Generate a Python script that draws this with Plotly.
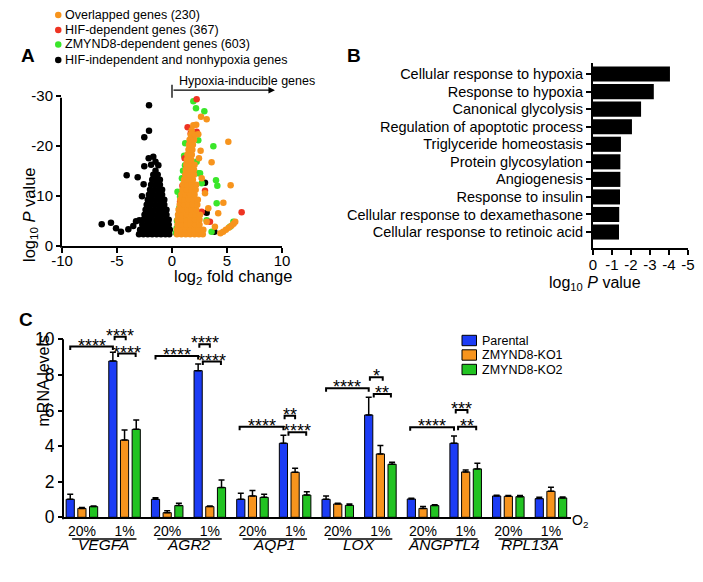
import plotly.graph_objects as go

W, H = 703, 582
FONT = "Liberation Sans, Arial, Helvetica, sans-serif"

# ---- panel A: volcano plot (log2 fold change vs log10 P value)
black_x = [-2.09, -2.09, -2.52, -2.12, -1.70, -1.24, -2.52, -4.12, -3.12, -2.58, -2.73,
           -6.39, -5.55, -5.09, -4.64, -3.97, -3.52, -2.97, -3.27, -1.9, -1.5,
           -3.0, -2.6, -2.2, -1.8, -1.4, -1.0, -0.6, -0.25,
           -2.9, -2.5, -2.1, -1.7, -1.3, -0.9, -0.5, -0.2,
           -2.7, -2.3, -1.9, -1.5, -1.1, -0.7, -0.3,
           -2.6, -2.2, -1.8, -1.4, -1.0, -0.6, -0.3,
           -2.5, -2.1, -1.7, -1.3, -0.9, -0.5,
           -2.4, -2.0, -1.6, -1.2, -0.8, -0.5,
           -2.3, -1.9, -1.5, -1.1, -0.7,
           -2.2, -1.8, -1.4, -1.0, -0.7,
           -2.1, -1.7, -1.3, -0.9,
           -2.0, -1.6, -1.2, -0.9,
           -1.9, -1.5, -1.1,
           -1.8, -1.4, -1.1,
           -1.7, -1.3,
           -1.5,
           3.0, 3.15, 3.85, 1.6]
black_y = [-28.1, -23.0, -21.7, -17.5, -17.8, -16.1, -15.9, -14.1, -13.7, -12.3, -9.9,
           -4.27, -4.6, -3.5, -2.8, -3.27, -3.93, -5.1, -4.9, -16.2, -16.8,
           -2.3, -2.3, -2.3, -2.3, -2.3, -2.3, -2.3, -2.3,
           -3.2, -3.2, -3.2, -3.2, -3.2, -3.2, -3.2, -3.2,
           -4.2, -4.2, -4.2, -4.2, -4.2, -4.2, -4.2,
           -5.2, -5.2, -5.2, -5.2, -5.2, -5.2, -5.2,
           -6.2, -6.2, -6.2, -6.2, -6.2, -6.2,
           -7.2, -7.2, -7.2, -7.2, -7.2, -7.2,
           -8.2, -8.2, -8.2, -8.2, -8.2,
           -9.2, -9.2, -9.2, -9.2, -9.2,
           -10.2, -10.2, -10.2, -10.2,
           -11.2, -11.2, -11.2, -11.2,
           -12.2, -12.2, -12.2,
           -13.2, -13.2, -13.2,
           -14.2, -14.2,
           -15.0,
           -12.6, -6.6, -2.8, -18.1]

green_x = [1.94, 2.18, 2.94, 3.76, 4.0, 4.12, 4.06, 2.39, 1.48, 2.24, 1.18, 2.39, 2.7,
           0.82, 0.58, 0.42, 3.15, 3.6, 5.27, 5.58, 0.73, 2.55, 0.35, 0.5,
           0.9, 1.0, 0.65, 0.45, 1.2, 1.1]
green_y = [-28.9, -27.5, -26.9, -19.9, -13.1, -12.0, -8.5, -21.1, -18.3, -16.8, -16.1, -14.5, -12.5,
           -8.8, -6.1, -3.5, -5.1, -2.8, -3.8, -4.8, -9.8, -14.5, -2.6, -10.8,
           -13.5, -15.0, -7.5, -5.0, -20.5, -18.0]

red_x = [2.24, 1.42, 2.24, 1.33, 1.5, 0.73, 3.0, 2.7, 6.33, 1.7, 2.55, 3.45, 0.6, 0.95, 1.15]
red_y = [-29.3, -23.7, -22.8, -16.1, -14.1, -8.8, -11.0, -6.8, -6.7, -22.5, -6.5, -4.8, -4.5, -12.0, -17.5]

orange_x = [2.64, 3.15, 5.12, 3.6, 5.33, 4.67, 4.2, 3.9, 1.94, 1.79, 2.39, 2.2, 2.7, 3.0, 3.3, 3.15,
            2.6, 2.45, 4.4, 4.65, 4.9, 5.15, 5.4, 5.6, 5.75,
            0.45, 0.85, 1.25, 1.65, 2.05, 2.45, 2.8,
            0.45, 0.85, 1.25, 1.65, 2.05, 2.45, 2.85,
            0.5, 0.9, 1.3, 1.7, 2.1, 2.5,
            0.5, 0.9, 1.3, 1.7, 2.1, 2.5,
            0.55, 0.95, 1.35, 1.75, 2.15, 2.55,
            0.6, 1.0, 1.4, 1.8, 2.2,
            0.7, 1.1, 1.5, 1.9, 2.3,
            0.75, 1.15, 1.55, 1.95, 2.35,
            0.85, 1.25, 1.65, 2.05,
            0.95, 1.35, 1.75, 2.15,
            1.0, 1.4, 1.8, 2.2,
            1.1, 1.5, 1.9,
            1.2, 1.6, 2.0,
            1.25, 1.65, 2.0,
            1.3, 1.7, 2.05,
            1.35, 1.75,
            1.4, 1.8,
            1.5, 1.85,
            1.55, 1.9,
            1.6, 2.0,
            1.7, 2.1]
orange_y = [-25.8, -25.3, -20.8, -16.7, -12.1, -8.6, -6.5, -3.8, -24.1, -23.1, -22.3, -24.2, -13.5, -10.5, -7.5, -4.8,
            -19.0, -17.5, -2.5, -2.8, -3.2, -3.6, -4.0, -4.4, -4.8,
            -2.3, -2.3, -2.3, -2.3, -2.3, -2.3, -2.3,
            -3.2, -3.2, -3.2, -3.2, -3.2, -3.2, -3.2,
            -4.2, -4.2, -4.2, -4.2, -4.2, -4.2,
            -5.2, -5.2, -5.2, -5.2, -5.2, -5.2,
            -6.2, -6.2, -6.2, -6.2, -6.2, -6.2,
            -7.2, -7.2, -7.2, -7.2, -7.2,
            -8.2, -8.2, -8.2, -8.2, -8.2,
            -9.2, -9.2, -9.2, -9.2, -9.2,
            -10.2, -10.2, -10.2, -10.2,
            -11.2, -11.2, -11.2, -11.2,
            -12.2, -12.2, -12.2, -12.2,
            -13.2, -13.2, -13.2,
            -14.2, -14.2, -14.2,
            -15.2, -15.2, -15.2,
            -16.2, -16.2, -16.2,
            -17.2, -17.2,
            -18.2, -18.2,
            -19.2, -19.2,
            -20.2, -20.2,
            -21.2, -21.2,
            -22.2, -22.2]

legend_a = ["Overlapped genes (230)", "HIF-dependent genes (367)",
            "ZMYND8-dependent genes (603)", "HIF-independent and nonhypoxia genes"]

# ---- panel B: GO terms
go_terms = ["Cellular response to hypoxia", "Response to hypoxia", "Canonical glycolysis",
            "Regulation of apoptotic process", "Triglyceride homeostasis", "Protein glycosylation",
            "Angiogenesis", "Response to insulin", "Cellular response to dexamethasone",
            "Cellular response to retinoic acid"]
go_logp = [-4.05, -3.2, -2.53, -2.05, -1.47, -1.44, -1.44, -1.42, -1.38, -1.37]

# ---- panel C: qPCR
genes = ["VEGFA", "AGR2", "AQP1", "LOX", "ANGPTL4", "RPL13A"]
o2_levels = ["20%", "1%"]
parental = [1.01, 8.78, 1.01, 8.24, 1.01, 4.16, 1.01, 5.75, 1.03, 4.16, 1.2, 1.05]
parental_err = [0.28, 0.49, 0.09, 0.37, 0.34, 0.45, 0.19, 0.99, 0.04, 0.41, 0.04, 0.07]
ko1 = [0.5, 4.34, 0.26, 0.6, 1.2, 2.53, 0.75, 3.56, 0.5, 2.55, 1.18, 1.46]
ko1_err = [0.05, 0.56, 0.11, 0.03, 0.3, 0.22, 0.04, 0.47, 0.1, 0.11, 0.04, 0.23]
ko2 = [0.6, 4.94, 0.66, 1.67, 1.12, 1.25, 0.67, 2.98, 0.66, 2.72, 1.16, 1.09]
ko2_err = [0.03, 0.53, 0.13, 0.43, 0.17, 0.19, 0.08, 0.11, 0.05, 0.31, 0.06, 0.05]
series_names = ["Parental", "ZMYND8-KO1", "ZMYND8-KO2"]

# (category, bar, category, bar, height, label)
brackets = [
    (0, 0, 1, 0, 9.6, "****"), (1, 0.15, 1, 1.1, 10.15, "****"), (1, 0.45, 1, 1.95, 9.2, "****"),
    (2, 0, 3, 0, 9.06, "****"), (3, 0.1, 3, 1.0, 9.72, "****"), (3, 0.4, 3, 1.95, 8.75, "****"),
    (4, -0.1, 5, 0, 5.09, "****"), (5, 0.1, 5, 1.0, 5.71, "**"), (5, 0.43, 5, 1.95, 4.78, "****"),
    (6, 0, 7, 0, 7.25, "****"), (7, 0.1, 7, 1.2, 7.87, "*"), (7, 0.43, 7, 1.9, 6.93, "**"),
    (8, -0.1, 9, 0, 5.06, "****"), (9, 0.15, 9, 1.15, 6.03, "***"), (9, 0.35, 9, 1.9, 5.09, "**"),
]

ORANGE, RED, GREEN_A, BLACK = "#f7941d", "#ee3322", "#3ae62a", "#000000"
BAR_COLORS = ["#1c3cf5", "#f7941d", "#22c322"]


def fx(p):
    return p / W


def fy(p):
    return 1 - p / H


fig = go.Figure()

for xs, ys, col in [(black_x, black_y, BLACK), (green_x, green_y, GREEN_A),
                    (red_x, red_y, RED), (orange_x, orange_y, ORANGE)]:
    fig.add_trace(go.Scatter(x=xs, y=ys, mode="markers", xaxis="x", yaxis="y",
                             marker=dict(color=col, size=6.5, line=dict(width=0)),
                             showlegend=False, hoverinfo="skip"))

fig.add_trace(go.Bar(x=go_logp, y=go_terms, orientation="h", xaxis="x2", yaxis="y2",
                     marker=dict(color="black", line=dict(width=0)), width=0.86,
                     showlegend=False))

cats = list(range(len(genes) * len(o2_levels)))
for name, vals, errs, col in zip(series_names, [parental, ko1, ko2],
                                 [parental_err, ko1_err, ko2_err], BAR_COLORS):
    fig.add_trace(go.Bar(x=cats, y=vals, name=name, xaxis="x3", yaxis="y3",
                         marker=dict(color=col, line=dict(color="black", width=1)),
                         error_y=dict(type="data", array=errs, arrayminus=[0] * len(errs),
                                      symmetric=False, color="black", thickness=1.5, width=3),
                         showlegend=False))

axis_common = dict(showgrid=False, zeroline=False, linecolor="black", linewidth=2,
                   ticks="outside", tickcolor="black", tickwidth=2, ticklen=5,
                   automargin=False)

fig.update_layout(
    template="none",
    width=W, height=H, margin=dict(l=0, r=0, t=0, b=0, pad=0),
    paper_bgcolor="white", plot_bgcolor="rgba(0,0,0,0)",
    font=dict(family=FONT, color="black"),
    barmode="group", bargap=0.178, bargroupgap=0.3,
    xaxis=dict(domain=[fx(62), fx(282)], range=[-10, 10], anchor="y", showline=True,
               tickvals=[-10, -5, 0, 5, 10], ticktext=["-10", "-5", "0", "5", "10"],
               tickfont=dict(size=15), ticklabelstandoff=-5, **axis_common),
    yaxis=dict(domain=[fy(245.7), fy(75.7)], range=[0, -34], anchor="x", showline=False,
               tickvals=[0, -10, -20, -30], ticktext=["0", "-10", "-20", "-30"],
               tickfont=dict(size=15), **axis_common),
    xaxis2=dict(domain=[fx(593), fx(688)], range=[0, -5], anchor="y2", showline=True,
                tickvals=[0, -1, -2, -3, -4, -5], ticktext=["0", "-1", "-2", "-3", "-4", "-5"],
                tickfont=dict(size=15), ticklabelstandoff=-3, **axis_common),
    yaxis2=dict(domain=[fy(248), fy(63)], type="category", range=[9.91, -0.63], anchor="x2",
                showline=True, tickfont=dict(size=14.5), **axis_common),
    xaxis3=dict(domain=[fx(64), fx(571)], range=[-0.42, 11.47], anchor="y3", showline=True,
                tickvals=cats, ticktext=o2_levels * len(genes), showgrid=False, zeroline=False,
                linecolor="black", linewidth=2, ticks="", tickfont=dict(size=14),
                automargin=False),
    yaxis3=dict(domain=[fy(517.3), fy(321.5)], range=[0, 11], anchor="x3", showline=False,
                tickvals=[0, 2, 4, 6, 8, 10], tickfont=dict(size=17.5), **axis_common),
)

shapes = []
annotations = []

# hand-drawn y axis lines (range extends above the top tick)
shapes.append(dict(type="line", xref="paper", yref="paper", x0=fx(61), x1=fx(61),
                   y0=fy(247.7), y1=fy(97.7), line=dict(color="black", width=2)))
shapes.append(dict(type="line", xref="paper", yref="paper", x0=fx(63), x1=fx(63),
                   y0=fy(519.3), y1=fy(339.3), line=dict(color="black", width=2)))

# hypoxia-inducible arrow in A
shapes.append(dict(type="line", xref="x", yref="y", x0=0, x1=0, y0=-29.6, y1=-32.2,
                   line=dict(color="black", width=1.3)))
annotations.append(dict(x=9.36, y=-31.1, ax=0, ay=-31.1, xref="x", yref="y", axref="x",
                        ayref="y", text="", showarrow=True, arrowhead=2, arrowsize=1,
                        arrowwidth=1.3, arrowcolor="black", standoff=0, startstandoff=0))
annotations.append(dict(x=0.45, y=-32.9, xref="x", yref="y", xanchor="left", yanchor="middle",
                        text="Hypoxia-inducible genes", showarrow=False, font=dict(size=12.5)))

# legend A
for i, (name, col) in enumerate(zip(legend_a, [ORANGE, RED, GREEN_A, BLACK])):
    ry = [15, 30, 44.5, 60][i]
    shapes.append(dict(type="circle", xref="paper", yref="paper", x0=fx(55), x1=fx(61.5),
                       y0=fy(ry + 3.2), y1=fy(ry - 3.2), fillcolor=col, line=dict(width=0)))
    annotations.append(dict(x=fx(63), y=fy(ry), xref="paper", yref="paper", xanchor="left",
                            yanchor="middle", text=name, showarrow=False, font=dict(size=12.5)))

# legend C
for i, (name, col) in enumerate(zip(series_names, BAR_COLORS)):
    ry = [340.5, 355, 369.5][i]
    shapes.append(dict(type="rect", xref="paper", yref="paper", x0=fx(462), x1=fx(476.5),
                       y0=fy(ry + 5.2), y1=fy(ry - 5.2), fillcolor=col,
                       line=dict(color="black", width=1)))
    annotations.append(dict(x=fx(480), y=fy(ry), xref="paper", yref="paper", xanchor="left",
                            yanchor="middle", text=name, showarrow=False, font=dict(size=12.5)))

# significance brackets in C
slot = (1 - 0.178) / 3
for ca, ba, cb, bb, yb, lab in brackets:
    xa = ca + (ba - 1) * slot
    xb = cb + (bb - 1) * slot
    shapes.append(dict(type="path", xref="x3", yref="y3",
                       path=f"M {xa},{yb - 0.2} L {xa},{yb} L {xb},{yb} L {xb},{yb - 0.2}",
                       line=dict(color="black", width=2)))
    annotations.append(dict(x=(xa + xb) / 2, y=yb + 0.05, xref="x3", yref="y3",
                            xanchor="center", yanchor="middle", text=lab, showarrow=False,
                            font=dict(size=18)))

# gene underlines and names
for g, gene in enumerate(genes):
    shapes.append(dict(type="line", xref="x3", yref="paper", x0=2 * g - 0.23, x1=2 * g + 1.28,
                       y0=fy(539), y1=fy(539), line=dict(color="black", width=1.5)))
    annotations.append(dict(x=2 * g + 0.5, y=fy(555), xref="x3", yref="paper",
                            text=f"<i>{gene}</i>", showarrow=False, font=dict(size=15.5)))
annotations.append(dict(x=fx(570), y=fy(532), xref="paper", yref="paper", xanchor="left",
                        text="O<sub>2</sub>", showarrow=False, font=dict(size=14)))

# axis titles
annotations += [
    dict(x=fx(17.5), y=fy(165), xref="paper", yref="paper", textangle=-90,
         text="log<sub>10</sub> <i>P</i> value", showarrow=False, font=dict(size=16.5)),
    dict(x=fx(172), y=fy(277), xref="paper", yref="paper",
         text="log<sub>2</sub> fold change", showarrow=False, font=dict(size=16.5)),
    dict(x=fx(643), y=fy(283), xref="paper", yref="paper",
         text="log<sub>10</sub> <i>P</i> value", showarrow=False, font=dict(size=16)),
    dict(x=fx(32), y=fy(429), xref="paper", yref="paper", textangle=-90,
         text="mRNA levels", showarrow=False, font=dict(size=16)),
]

# panel letters
for lab, x, y in [("A", 19, 43), ("B", 354, 43), ("C", 17, 319)]:
    annotations.append(dict(x=fx(x), y=fy(y), xref="paper", yref="paper", text=f"<b>{lab}</b>",
                            showarrow=False, font=dict(size=19)))

fig.update_layout(shapes=shapes, annotations=annotations)
# page body has a default margin; drop it so the figure sits at the window origin
fig.write_html("out.html", config={"displayModeBar": False},
               post_script="document.body.style.margin='0';")
